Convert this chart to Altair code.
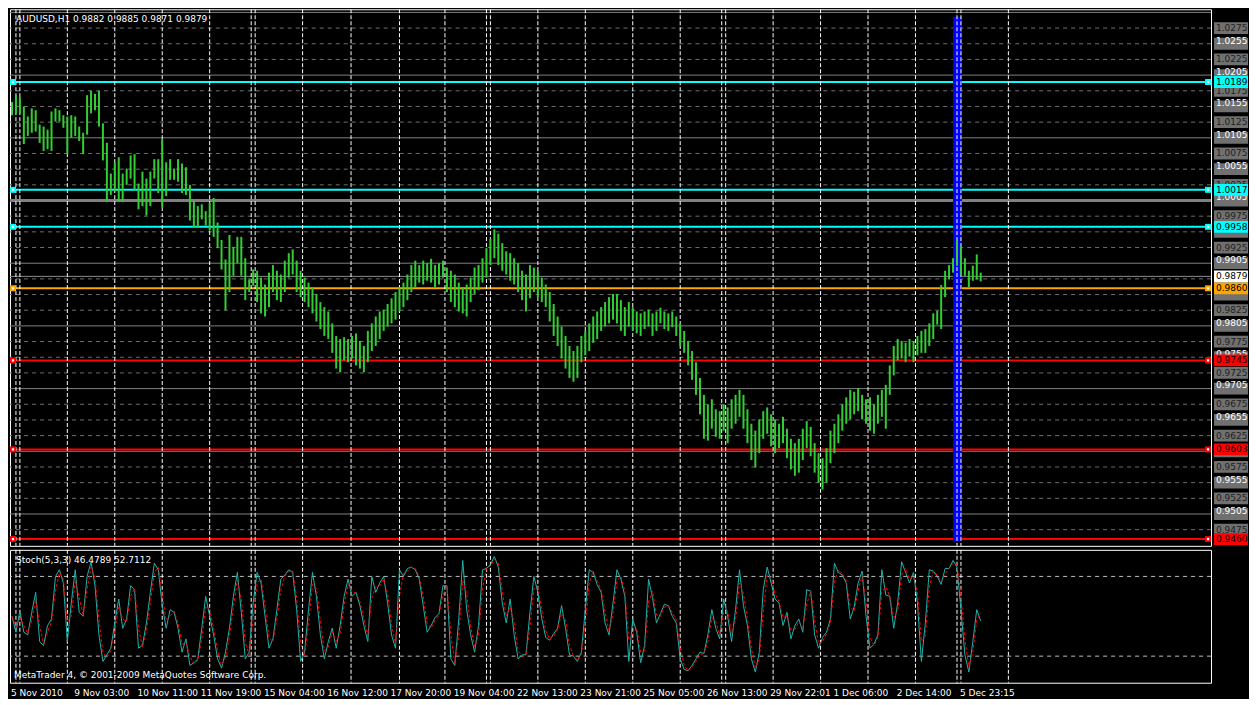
import altair as alt
import pandas as pd

W = 1202
HP = 537
HS = 133
FONT = "DejaVu Sans"

title_text = "AUDUSD,H1  0.9882 0.9885 0.9871 0.9879"
stoch_text = "Stoch(5,3,3) 46.4789 52.7112"
copyright_text = "MetaTrader 4, \u00a9 2001-2009 MetaQuotes Software Corp."

# 2-hour price bars (high / low)
bar_high = [
    1.0157, 1.0168, 1.0165, 1.0150, 1.0134, 1.0147, 1.0144, 1.0121, 1.0118, 1.0113,
    1.0142, 1.0147, 1.0144, 1.0136, 1.0134, 1.0136, 1.0134, 1.0118, 1.0108, 1.0168,
    1.0175, 1.0170, 1.0175, 1.0123, 1.0092, 1.0043, 1.0061, 1.0069, 1.0043, 1.0051,
    1.0072, 1.0074, 1.0027, 1.0046, 1.0035, 1.0046, 1.0066, 1.0066, 1.0098, 1.0061,
    1.0066, 1.0051, 1.0066, 1.0059, 1.0053, 1.0025, 0.9999, 0.9991, 0.9994, 0.9983,
    0.9996, 1.0004, 0.9965, 0.9937, 0.9906, 0.9945, 0.9926, 0.9942, 0.9942, 0.9908,
    0.9874, 0.9890,
    0.9888, 0.9877, 0.9866, 0.9885, 0.9897, 0.9888, 0.9882, 0.9904, 0.9916, 0.9922,
    0.9904, 0.9888, 0.9877, 0.9869, 0.9862, 0.9851, 0.9838, 0.9830, 0.9823, 0.9804,
    0.9784, 0.9779, 0.9782, 0.9779, 0.9784, 0.9788, 0.9776, 0.9768, 0.9792, 0.9804,
    0.9815, 0.9823, 0.9826, 0.9835, 0.9844, 0.9854, 0.9862, 0.9869, 0.9882, 0.9897,
    0.9904, 0.9897, 0.9904, 0.9900, 0.9907, 0.9897, 0.9900, 0.9904, 0.9893, 0.9888,
    0.9882, 0.9869, 0.9862, 0.9866, 0.9877, 0.9893, 0.9897, 0.9908, 0.9924, 0.9939,
    0.9954, 0.9947, 0.9932, 0.9919, 0.9916, 0.9908, 0.9900, 0.9888, 0.9882, 0.9897,
    0.9893, 0.9888, 0.9877, 0.9866, 0.9854, 0.9835, 0.9815, 0.9799, 0.9784, 0.9768,
    0.9760, 0.9768, 0.9784, 0.9792, 0.9804, 0.9815, 0.9823, 0.9830, 0.9838, 0.9846,
    0.9851, 0.9851, 0.9841, 0.9830, 0.9838, 0.9830, 0.9823, 0.9820, 0.9823, 0.9826,
    0.9820, 0.9823, 0.9829, 0.9823, 0.9820, 0.9823, 0.9815, 0.9804, 0.9792, 0.9776,
    0.9760, 0.9742, 0.9717, 0.9690, 0.9675, 0.9683, 0.9667, 0.9664, 0.9675, 0.9670,
    0.9683, 0.9690, 0.9698, 0.9690, 0.9667, 0.9644, 0.9633, 0.9651, 0.9664, 0.9670,
    0.9659, 0.9651, 0.9644, 0.9655, 0.9636, 0.9620, 0.9613, 0.9620, 0.9636, 0.9648,
    0.9639, 0.9613, 0.9597, 0.9589, 0.9605, 0.9633, 0.9644, 0.9659, 0.9675, 0.9686,
    0.9698, 0.9695, 0.9701, 0.9690, 0.9683, 0.9686, 0.9675, 0.9690, 0.9698, 0.9706,
    0.9737, 0.9768, 0.9779, 0.9776, 0.9773, 0.9779, 0.9776, 0.9784, 0.9792, 0.9795,
    0.9804, 0.9820, 0.9824, 0.9865, 0.9888, 0.9897, 0.9908, 0.9939, 0.9927, 0.9908,
    0.9888, 0.9896, 0.9914, 0.9885,
]
bar_low = [
    1.0136, 1.0139, 1.0139, 1.0090, 1.0103, 1.0108, 1.0110, 1.0092, 1.0079, 1.0082,
    1.0079, 1.0126, 1.0126, 1.0116, 1.0074, 1.0100, 1.0103, 1.0095, 1.0074, 1.0105,
    1.0139, 1.0144, 1.0118, 1.0064, 0.9999, 1.0009, 1.0015, 0.9999, 0.9999, 1.0025,
    1.0035, 1.0017, 0.9986, 0.9991, 0.9976, 0.9991, 1.0035, 1.0012, 0.9989, 1.0007,
    1.0033, 1.0033, 1.0030, 1.0012, 1.0009, 0.9968, 0.9957, 0.9957, 0.9970, 0.9960,
    0.9952, 0.9942, 0.9924, 0.9890, 0.9825, 0.9854, 0.9880, 0.9900, 0.9880, 0.9841,
    0.9854, 0.9864,
    0.9838, 0.9820, 0.9815, 0.9830, 0.9854, 0.9841, 0.9838, 0.9854, 0.9877, 0.9882,
    0.9854, 0.9846, 0.9838, 0.9830, 0.9820, 0.9807, 0.9795, 0.9784, 0.9779, 0.9757,
    0.9732, 0.9726, 0.9745, 0.9742, 0.9748, 0.9737, 0.9732, 0.9726, 0.9742, 0.9760,
    0.9768, 0.9779, 0.9792, 0.9799, 0.9804, 0.9810, 0.9823, 0.9830, 0.9841, 0.9854,
    0.9862, 0.9869, 0.9866, 0.9872, 0.9869, 0.9862, 0.9866, 0.9877, 0.9854, 0.9838,
    0.9830, 0.9823, 0.9820, 0.9815, 0.9838, 0.9851, 0.9857, 0.9869, 0.9877, 0.9897,
    0.9908, 0.9897, 0.9888, 0.9882, 0.9872, 0.9866, 0.9854, 0.9841, 0.9823, 0.9844,
    0.9854, 0.9846, 0.9838, 0.9830, 0.9807, 0.9784, 0.9768, 0.9748, 0.9732, 0.9717,
    0.9711, 0.9717, 0.9742, 0.9753, 0.9760, 0.9773, 0.9779, 0.9792, 0.9799, 0.9804,
    0.9810, 0.9804, 0.9792, 0.9784, 0.9799, 0.9792, 0.9788, 0.9784, 0.9795, 0.9799,
    0.9784, 0.9792, 0.9804, 0.9795, 0.9792, 0.9798, 0.9784, 0.9768, 0.9757, 0.9737,
    0.9714, 0.9690, 0.9659, 0.9620, 0.9617, 0.9636, 0.9623, 0.9620, 0.9633, 0.9613,
    0.9636, 0.9644, 0.9655, 0.9636, 0.9613, 0.9586, 0.9574, 0.9597, 0.9620, 0.9628,
    0.9608, 0.9597, 0.9605, 0.9613, 0.9589, 0.9571, 0.9561, 0.9566, 0.9586, 0.9605,
    0.9592, 0.9566, 0.9550, 0.9539, 0.9550, 0.9581, 0.9597, 0.9613, 0.9633, 0.9644,
    0.9651, 0.9659, 0.9664, 0.9651, 0.9644, 0.9633, 0.9628, 0.9644, 0.9655, 0.9636,
    0.9690, 0.9721, 0.9745, 0.9748, 0.9742, 0.9751, 0.9742, 0.9753, 0.9757, 0.9757,
    0.9768, 0.9779, 0.9802, 0.9795, 0.9846, 0.9874, 0.9885, 0.9896, 0.9882, 0.9880,
    0.9862, 0.9872, 0.9874, 0.9871,
]

# Stochastic %K (main) and %D (signal), sampled every 2 bars
stoch_main = [
    50, 38, 54, 38, 36, 53, 68, 31, 28, 43,
    48, 80, 85, 75, 31, 60, 85, 53, 50, 80,
    91, 73, 36, 16, 21, 26, 45, 63, 41, 48,
    73, 70, 26, 28, 45, 68, 90, 85, 58, 41,
    55, 53, 41, 23, 33, 13, 15, 18, 41, 65,
    50, 36, 18, 11, 23, 41, 65, 83, 53, 18,
    23, 60, 83, 75, 50, 26, 33, 55, 78, 81,
    85, 83, 55, 16, 23, 55, 83, 65, 36, 18,
    31, 41, 26, 43, 65, 78, 65, 68, 58, 43,
    31, 80, 68, 75, 80, 60, 36, 26, 85, 80,
    86, 87, 85, 78, 58, 38, 43, 49, 52, 73,
    73, 18, 13, 48, 92, 55, 36, 23, 43, 85,
    86, 89, 95, 87, 60, 45, 63, 36, 18, 21,
    21, 53, 80, 68, 48, 34, 32, 37, 41, 58,
    41, 21, 20, 16, 23, 55, 85, 83, 74, 68,
    45, 36, 60, 85, 78, 65, 16, 48, 38, 15,
    28, 78, 64, 45, 52, 59, 58, 50, 45, 18,
    10, 9, 13, 18, 23, 22, 36, 55, 41, 33,
    63, 50, 31, 55, 85, 58, 43, 18, 8, 23,
    70, 87, 75, 63, 60, 43, 53, 33, 43, 48,
    38, 70, 69, 36, 26, 34, 38, 48, 90, 83,
    81, 75, 48, 57, 75, 84, 50, 26, 29, 36,
    85, 66, 65, 41, 60, 91, 83, 75, 83, 60,
    16, 45, 85, 84, 80, 74, 86, 86, 92, 87,
    55, 21, 8, 31, 55, 46.5,
]
stoch_signal = [
    50, 42, 49, 43, 37, 47, 63, 43, 29, 38,
    46, 69, 83, 78, 46, 50, 77, 64, 51, 70,
    87, 79, 48, 23, 19, 24, 39, 57, 48, 46,
    65, 71, 41, 27, 39, 60, 83, 87, 67, 47,
    50, 54, 45, 29, 30, 20, 14, 17, 33, 57,
    55, 41, 24, 13, 19, 35, 57, 77, 63, 30,
    21, 48, 75, 78, 58, 34, 31, 48, 70, 80,
    84, 84, 64, 29, 21, 44, 74, 71, 46, 24,
    27, 38, 31, 37, 58, 74, 69, 67, 61, 48,
    35, 64, 72, 73, 78, 67, 44, 29, 65, 82,
    84, 87, 86, 80, 65, 45, 41, 47, 51, 66,
    73, 36, 15, 36, 77, 67, 42, 27, 36, 71,
    86, 88, 93, 90, 69, 50, 57, 45, 24, 20,
    21, 42, 71, 72, 55, 39, 33, 35, 40, 52,
    47, 28, 20, 17, 21, 44, 75, 84, 77, 70,
    53, 39, 52, 77, 80, 69, 32, 37, 41, 23,
    24, 61, 69, 51, 50, 57, 58, 53, 47, 27,
    13, 9, 12, 16, 21, 22, 31, 49, 46, 36,
    53, 54, 37, 47, 75, 67, 48, 26, 11, 18,
    54, 81, 79, 67, 61, 49, 50, 40, 40, 46,
    41, 59, 69, 47, 29, 31, 37, 45, 76, 85,
    82, 77, 57, 54, 69, 81, 61, 34, 28, 34,
    69, 72, 65, 49, 54, 81, 86, 78, 80, 68,
    31, 35, 72, 84, 81, 76, 82, 86, 90, 89,
    66, 32, 12, 23, 47, 52.7,
]

x_domain = [-1, 606.5]
price_domain = [0.94492, 1.0305]

grid_x = [2, 4, 28, 52, 76, 100, 121, 123, 147, 171.5, 196, 219, 240, 242,
          266, 290, 314, 338, 359, 361, 385, 409, 433, 457, 478, 480, 504]
date_pos = [0, 32, 64, 96, 128, 160, 192, 224, 256, 288, 320, 352, 384, 416, 448, 480]
date_labels = ["5 Nov 2010", "9 Nov 03:00", "10 Nov 11:00", "11 Nov 19:00",
               "15 Nov 04:00", "16 Nov 12:00", "17 Nov 20:00", "19 Nov 04:00",
               "22 Nov 13:00", "23 Nov 21:00", "25 Nov 05:00", "26 Nov 13:00",
               "29 Nov 22:01", "1 Dec 06:00", "2 Dec 14:00", "5 Dec 23:15"]

dashed_levels = [1.0275, 1.0250, 1.0225, 1.0175, 1.0150, 1.0125, 1.0075, 1.0050,
                 1.0025, 0.9975, 0.9950, 0.9925, 0.9875, 0.9850, 0.9825, 0.9775,
                 0.9750, 0.9725, 0.9675, 0.9650, 0.9625, 0.9575, 0.9550, 0.9525,
                 0.9475]
round_levels = [1.0300, 1.0200, 1.0100, 0.9900, 0.9800, 0.9700, 0.9600, 0.9500]
thick_levels = [1.0000]
# grey level tags on the price scale (boxes for all, readable text only where not covered)
box_levels = [1.0275, 1.0250, 1.0225, 1.0200, 1.0175, 1.0150, 1.0125, 1.0100,
              1.0075, 1.0050, 1.0025, 1.0000, 0.9975, 0.9950, 0.9925, 0.9900,
              0.9875, 0.9850, 0.9825, 0.9800, 0.9775, 0.9750, 0.9725, 0.9700,
              0.9675, 0.9650, 0.9625, 0.9600, 0.9575, 0.9550, 0.9525, 0.9500,
              0.9475]
box_text_levels = [1.0275, 1.0225, 1.0175, 1.0125, 1.0075, 1.0025, 0.9975, 0.9925,
                   0.9825, 0.9775, 0.9725, 0.9675, 0.9625, 0.9575, 0.9525, 0.9475]
# price-scale ticks; labels whose place is covered by a level tag are left out
axis_levels = [1.0255, 1.0205, 1.0155, 1.0105, 1.0055, 1.0005, 0.9955, 0.9905,
               0.9855, 0.9805, 0.9755, 0.9705, 0.9655, 0.9605, 0.9555, 0.9505]
axis_label_levels = [1.0255, 1.0205, 1.0155, 1.0105, 1.0055, 1.0005, 0.9905,
                     0.9805, 0.9755, 0.9705, 0.9655, 0.9555, 0.9505]
level_prices = [1.0189, 1.0017, 0.9958, 0.9860, 0.9745, 0.9603, 0.9460]
level_colors = ["#00ffff", "#00ffff", "#00ffff", "#ffa500", "#ff0000", "#ff0000", "#ff0000"]
current_price = [0.9879]
band_x = [476, 480.5]
band_p = [0.9456, 1.0293]
stoch_levels = [20, 80]

xs = alt.Scale(domain=x_domain, nice=False, zero=False)
ys = alt.Scale(domain=price_domain, nice=False, zero=False)
ss = alt.Scale(domain=[0, 100], nice=False, zero=False)

n = min(len(bar_high), len(bar_low))
bars_df = pd.DataFrame({"i": [2 * k for k in range(n)], "hi": bar_high[:n], "lo": bar_low[:n]})
main_df = pd.DataFrame({"i": [2 * k for k in range(len(stoch_main))], "v": stoch_main})
sig_df = pd.DataFrame({"i": [2 * k for k in range(len(stoch_signal))], "v": stoch_signal})
grid_df = pd.DataFrame({"g": grid_x})
dash_df = pd.DataFrame({"p": dashed_levels})
round_df = pd.DataFrame({"p": round_levels})
thick_df = pd.DataFrame({"p": thick_levels})
box_df = pd.DataFrame({"p": box_levels})
box_txt_df = pd.DataFrame({"p": box_text_levels})
axis_df = pd.DataFrame({"p": axis_label_levels})
lvl_df = pd.DataFrame({"p": level_prices, "c": level_colors})
cur_df = pd.DataFrame({"p": current_price})
band_df = pd.DataFrame({"x0": [band_x[0]], "x1": [band_x[1]], "p0": [band_p[0]], "p1": [band_p[1]]})
date_df = pd.DataFrame({"pos": date_pos, "lab": date_labels})
slev_df = pd.DataFrame({"v": stoch_levels})

half = 0.00094  # half height of a price label box

def Yp(field="p"):
    return alt.Y(f"{field}:Q", scale=ys, axis=None)

# ---------------- price panel ----------------
p_dash = alt.Chart(dash_df).mark_rule(color="#6e6e6e", strokeDash=[4, 4], strokeWidth=1).encode(
    y=alt.Y("p:Q", scale=ys, axis=alt.Axis(orient="right", values=axis_levels, labels=False,
                                           ticks=True, tickColor="white", tickSize=3,
                                           domain=False, grid=False, title=None)))
p_round = alt.Chart(round_df).mark_rule(color="#808080", strokeWidth=1).encode(y=Yp())
p_thick = alt.Chart(thick_df).mark_rule(color="#808080", strokeWidth=3).encode(y=Yp())
p_cur = alt.Chart(cur_df).mark_rule(color="#8c8c8c", strokeWidth=1).encode(y=Yp())
p_lvl = alt.Chart(lvl_df).mark_rule(strokeWidth=2).encode(
    y=Yp(), color=alt.Color("c:N", scale=None))
p_band = alt.Chart(band_df).mark_rect(color="#0000ff").encode(
    x=alt.X("x0:Q", scale=xs, axis=None), x2="x1:Q",
    y=alt.Y("p0:Q", scale=ys, axis=None), y2="p1:Q")
p_grid = alt.Chart(grid_df).mark_rule(color="white", strokeDash=[4, 2], strokeWidth=1).encode(
    x=alt.X("g:Q", scale=xs, axis=None))
p_sq_l = alt.Chart(lvl_df).mark_point(shape="square", filled=True, size=36, opacity=1).encode(
    y=Yp(), x=alt.value(3), color=alt.Color("c:N", scale=None))
p_sq_r = alt.Chart(lvl_df).mark_point(shape="square", filled=True, size=36, opacity=1).encode(
    y=Yp(), x=alt.value(W - 3), color=alt.Color("c:N", scale=None))
p_sq_in_l = alt.Chart(lvl_df).mark_point(shape="square", filled=True, size=5, opacity=1, color="white").encode(
    y=Yp(), x=alt.value(3))
p_sq_in_r = alt.Chart(lvl_df).mark_point(shape="square", filled=True, size=5, opacity=1, color="white").encode(
    y=Yp(), x=alt.value(W - 3))
p_bars = alt.Chart(bars_df).mark_rule(color="#32cd32", strokeWidth=2).encode(
    x=alt.X("i:Q", scale=xs, axis=None), y=alt.Y("hi:Q", scale=ys, axis=None), y2="lo:Q")

p_box = alt.Chart(box_df).transform_calculate(
    t=f"datum.p + {half}", b=f"datum.p - {half}").mark_rect(color="#707070").encode(
    y=Yp("t"), y2="b:Q", x=alt.value(W + 3), x2=alt.value(W + 37))
p_box_txt = alt.Chart(box_txt_df).mark_text(align="left", baseline="middle", color="#1e1e1e",
                                            font=FONT, fontSize=9).encode(
    y=Yp(), x=alt.value(W + 5), text=alt.Text("p:Q", format=".4f"))
p_axis_txt = alt.Chart(axis_df).mark_text(align="left", baseline="middle", color="white",
                                          font=FONT, fontSize=9).encode(
    y=Yp(), x=alt.value(W + 5), text=alt.Text("p:Q", format=".4f"))
p_lvl_box = alt.Chart(lvl_df).transform_calculate(
    t=f"datum.p + {half}", b=f"datum.p - {half}").mark_rect().encode(
    y=Yp("t"), y2="b:Q", x=alt.value(W + 3), x2=alt.value(W + 37),
    color=alt.Color("c:N", scale=None))
p_lvl_txt = alt.Chart(lvl_df).mark_text(align="left", baseline="middle", color="black",
                                        font=FONT, fontSize=9).encode(
    y=Yp(), x=alt.value(W + 5), text=alt.Text("p:Q", format=".4f"))
p_cur_box = alt.Chart(cur_df).transform_calculate(
    t=f"datum.p + {half}", b=f"datum.p - {half}").mark_rect(color="white").encode(
    y=Yp("t"), y2="b:Q", x=alt.value(W + 3), x2=alt.value(W + 37))
p_cur_txt = alt.Chart(cur_df).mark_text(align="left", baseline="middle", color="black",
                                        font=FONT, fontSize=9).encode(
    y=Yp(), x=alt.value(W + 5), text=alt.Text("p:Q", format=".4f"))
p_title = alt.Chart(pd.DataFrame({"t": [title_text]})).mark_text(
    align="left", baseline="middle", color="white", font=FONT, fontSize=9).encode(
    x=alt.value(6), y=alt.value(10), text="t:N")

price = alt.layer(
    p_dash, p_round, p_thick, p_cur, p_lvl, p_band, p_grid, p_sq_l, p_sq_r, p_sq_in_l, p_sq_in_r,
    p_bars, p_box, p_box_txt, p_axis_txt, p_lvl_box, p_lvl_txt, p_cur_box, p_cur_txt, p_title
).properties(width=W, height=HP)

# ---------------- stochastic panel ----------------
tick_vals = sorted(set(grid_x + date_pos))
s_lev = alt.Chart(slev_df).mark_rule(color="#bdbdbd", strokeDash=[4, 4], strokeWidth=1).encode(
    y=alt.Y("v:Q", scale=ss, axis=alt.Axis(orient="right", values=[0, 20, 80, 100], labelFlush=True,
                                           labelColor="white", labelFont=FONT, labelFontSize=9,
                                           tickColor="white", tickSize=3, labelPadding=2,
                                           domain=False, grid=False, title=None)))
s_grid = alt.Chart(grid_df).mark_rule(color="white", strokeDash=[4, 2], strokeWidth=1).encode(
    x=alt.X("g:Q", scale=xs, axis=alt.Axis(values=tick_vals, labels=False, ticks=True,
                                           tickColor="white", tickSize=3, domain=False,
                                           grid=False, title=None)))
s_main = alt.Chart(main_df).mark_line(color="#20b2aa", strokeWidth=1).encode(
    x=alt.X("i:Q", scale=xs, axis=None), y=alt.Y("v:Q", scale=ss, axis=None))
s_sig = alt.Chart(sig_df).mark_line(color="#ff0000", strokeWidth=1, strokeDash=[3, 2]).encode(
    x=alt.X("i:Q", scale=xs, axis=None), y=alt.Y("v:Q", scale=ss, axis=None))
s_title = alt.Chart(pd.DataFrame({"t": [stoch_text]})).mark_text(
    align="left", baseline="middle", color="white", font=FONT, fontSize=9).encode(
    x=alt.value(6), y=alt.value(10), text="t:N")
s_copy = alt.Chart(pd.DataFrame({"t": [copyright_text]})).mark_text(
    align="left", baseline="middle", color="white", font=FONT, fontSize=9).encode(
    x=alt.value(4), y=alt.value(HS - 8), text="t:N")
s_dates = alt.Chart(date_df).mark_text(
    align="left", baseline="middle", color="white", font=FONT, fontSize=9, dx=-1).encode(
    x=alt.X("pos:Q", scale=xs, axis=None), y=alt.value(HS + 10), text="lab:N")

stoch = alt.layer(s_lev, s_grid, s_main, s_sig, s_title, s_copy, s_dates).properties(width=W, height=HS)

chart = alt.vconcat(price, stoch, spacing=2).properties(
    background="black", padding=0
).configure_view(stroke="white", strokeWidth=1)

chart.save("out.html", embed_options={"renderer": "svg", "actions": False})
